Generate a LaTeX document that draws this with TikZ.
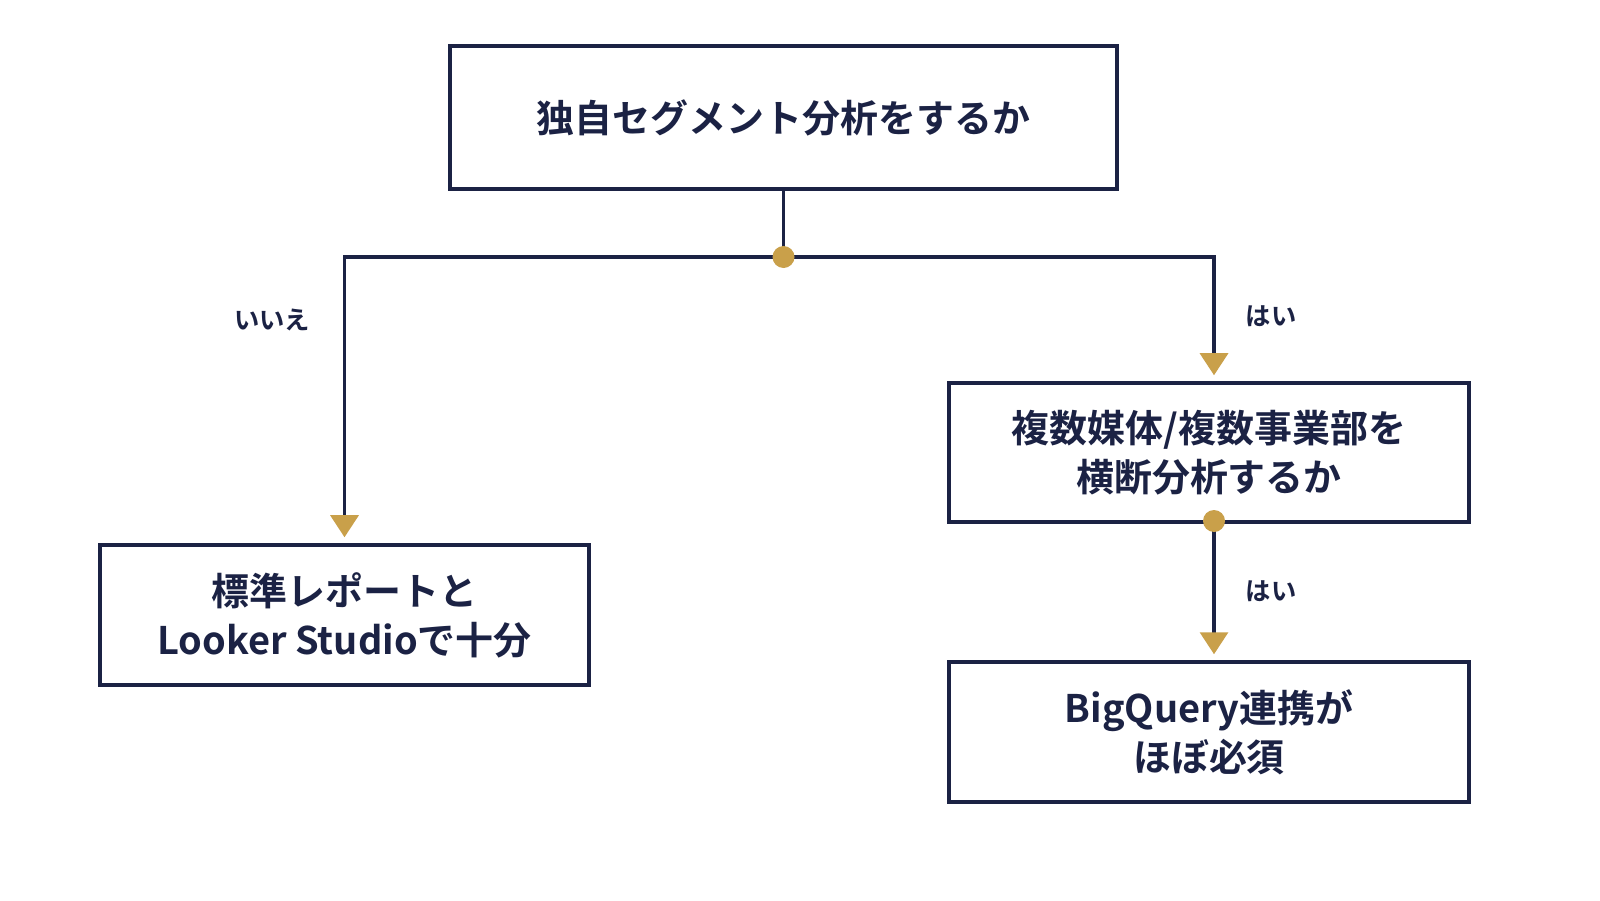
\documentclass[tikz,border=0pt]{standalone}
\usepackage{fontspec}
\setmainfont{Noto Sans CJK JP}[BoldFont=* Bold]
\usetikzlibrary{positioning,arrows.meta}
\definecolor{navy}{HTML}{1B2244}
\definecolor{gold}{HTML}{C9A04A}
\tikzset{
  qbox/.style={draw=navy,line width=1pt,text=navy,font=\bfseries\fontsize{10.8}{14}\selectfont,align=center,inner sep=0pt},
  ans/.style={text=navy,font=\bfseries\fontsize{7.2}{9}\selectfont},
  dot/.style={circle,fill=gold,inner sep=0pt,minimum size=0.22cm},
  link/.style={draw=navy,line width=0.9pt,-{Triangle[fill=gold,color=gold,width=0.28cm,length=0.22cm]},shorten >=0.06cm}
}
\begin{document}
\begin{tikzpicture}
\fill[white] (0,0) rectangle (16,9);
  \node[qbox,minimum width=6.67cm,minimum height=1.43cm] at (7.835,7.825) (q1){独自セグメント分析をするか};
  \node[qbox,minimum width=4.89cm,minimum height=1.40cm] at (3.445,2.85) (std){標準レポートと\\Looker Studioで十分};
  \node[qbox,minimum width=5.20cm,minimum height=1.39cm] at (12.09,4.475) (q2){複数媒体/複数事業部を\\横断分析するか};
  \node[qbox,minimum width=5.20cm,minimum height=1.40cm] at (12.09,1.68) (bq){BigQuery連携が\\ほぼ必須};
  \coordinate (j1) at (7.835,6.43);
  \draw[navy,line width=0.9pt] (q1.south) -- (j1);
  \draw[link] (j1) -| (std.north);
  \draw[link] (j1) -| (q2.north -| 12.14,0);
  \draw[link] (12.14,3.79) -- (bq.north -| 12.14,0);
  \node[dot] at (j1) (d1){};
  \node[dot] at (12.14,3.79) (d2){};
  \node[ans] at (2.72,5.8) (no){いいえ};
  \node[ans] at (12.71,5.84) (yes1){はい};
  \node[ans] at (12.71,3.09) (yes2){はい};
\pgfresetboundingbox
\useasboundingbox (0,0) rectangle (16,9);
\end{tikzpicture}
\end{document}
